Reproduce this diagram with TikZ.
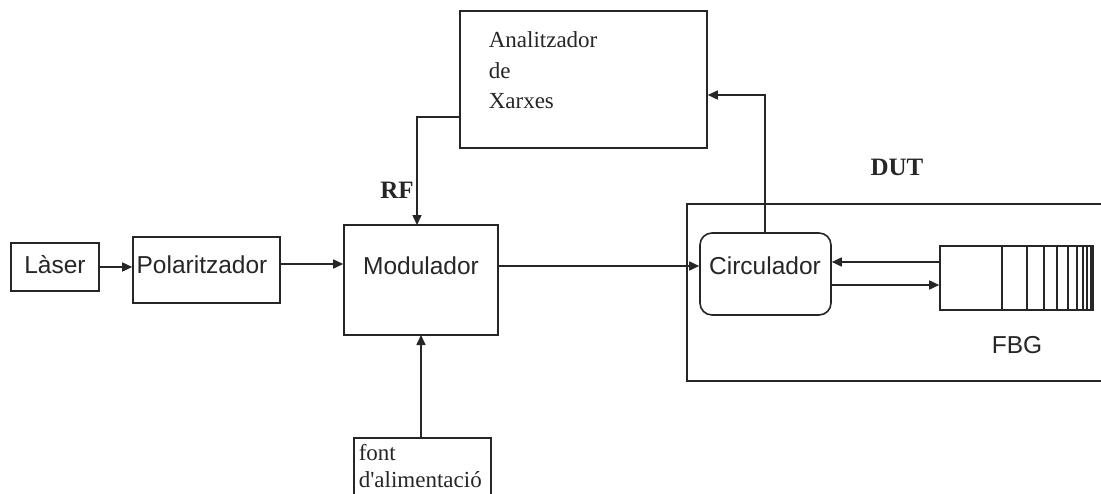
\documentclass[tikz,border=0pt]{standalone}
\usepackage{fontspec}
\setmainfont{Liberation Serif}
\setsansfont{Liberation Sans}
\usetikzlibrary{arrows.meta}
\begin{document}
\begin{tikzpicture}[x=1pt,y=-1pt,
  line width=1.6pt,
  box/.style={draw=black!85,line width=1.6pt,rectangle,inner sep=0pt},
  sanslbl/.style={font=\sffamily\fontsize{24.5}{28}\selectfont,inner sep=0pt,text=black!85},
  seriflbl/.style={font=\rmfamily\fontsize{23}{30.5}\selectfont,inner sep=0pt,align=left,text=black!85},
  boldlbl/.style={font=\rmfamily\bfseries\fontsize{25}{28}\selectfont,inner sep=0pt,text=black!85},
  conn/.style={draw=black!85,line width=1.6pt,-{Triangle[length=10pt,width=9pt]}},
  wire/.style={draw=black!85,line width=1.6pt}]
\useasboundingbox (0,0) rectangle (1101,493);
\fill[white] (0,0) rectangle (1101,493);
% boxes
\node[box,minimum width=88pt,minimum height=48pt] (laser) at (55,267) {};
\node[sanslbl] at (55,265) {Làser};
\node[box,minimum width=147pt,minimum height=66pt] (pol) at (206.5,270) {};
\node[sanslbl] at (202,265) {Polaritzador};
\node[box,minimum width=154pt,minimum height=110pt] (mod) at (421,280) {};
\node[sanslbl] at (421,266) {Modulador};
\node[box,minimum width=247pt,minimum height=137pt] (an) at (583.5,79.5) {};
\node[seriflbl,anchor=north west] (antxt) at (488,31) {Analitzador\\de\\Xarxes};
% DUT box
\draw[wire] (1115,204) -- (687,204) -- (687,381) -- (1115,381);
\node[boldlbl] (dut) at (897,167) {DUT};
\node[boldlbl] (rf) at (397,190) {RF};
% circulator
\node[box,rounded corners=12pt,minimum width=131pt,minimum height=82pt] (circ) at (765.5,274) {};
\node[sanslbl] at (765,266) {Circulador};
% FBG
\node[box,minimum width=153pt,minimum height=64pt] (fbg) at (1016.5,278) {};
\foreach \xx in {1002,1027,1044,1057,1068,1077,1083,1087,1091}
  \draw[wire,line width=1.3pt] (\xx,246) -- (\xx,310);
\node[sanslbl] (fbgl) at (1017,345) {FBG};
% power supply
\node[box,anchor=north west,minimum width=137pt,minimum height=70pt] (font) at (353,437) {};
\node[seriflbl,anchor=north west,font=\rmfamily\fontsize{23}{27}\selectfont] at (358,443) {font\\d\textquotesingle alimentació};
% connectors
\draw[conn] (laser.east) -- (laser.east -| pol.west);
\draw[conn] (pol.east |- 0,264) -- (mod.west |- 0,264);
\draw[conn] (an.west |- 0,117) -- (417,117) -- (417,225);
\draw[conn] (mod.east |- 0,266) -- (circ.west |- 0,266);
\draw[conn] (765,233) -- (765,95) -- (an.east |- 0,95);
\draw[conn] (fbg.west |- 0,262) -- (circ.east |- 0,262);
\draw[conn] (circ.east |- 0,285) -- (fbg.west |- 0,285);
\draw[conn] (421,437) -- (421,335);
\end{tikzpicture}
\end{document}
